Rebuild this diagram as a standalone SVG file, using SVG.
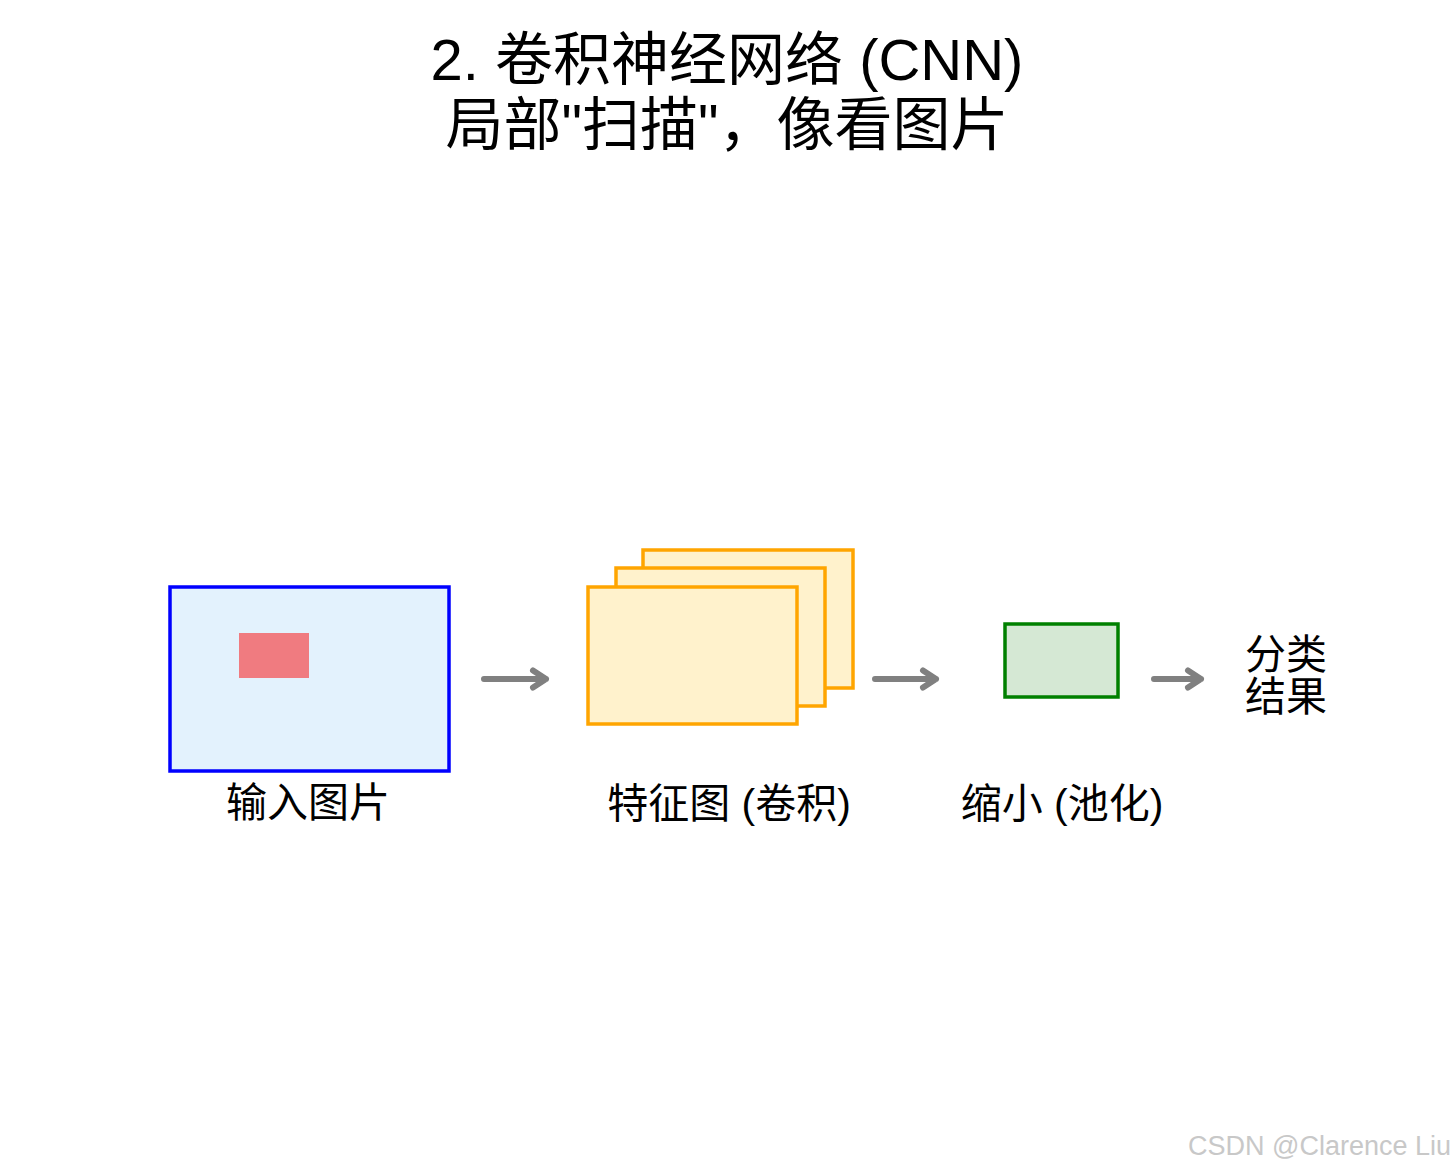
<svg xmlns="http://www.w3.org/2000/svg" width="1455" height="1171" viewBox="0 0 1455 1171">
<style>
text{font-family:"Liberation Sans","Noto Sans CJK SC",sans-serif;fill:#000}
.title{font-size:58px;text-anchor:middle}
.lbl{font-size:41px;text-anchor:middle}
.fm{fill:#fff2cc;stroke:#ffa500;stroke-width:3.5}
.arr{fill:none;stroke:#808080;stroke-width:6;stroke-linecap:round;stroke-linejoin:round}
</style>
<rect width="1455" height="1171" fill="#fff"/>
<g id="title">
<text class="title" x="727" y="80">2. 卷积神经网络 (CNN)</text>
<text class="title" x="727" y="145">局部"扫描"，像看图片</text>
</g>
<g id="input">
<rect x="170" y="587" width="279" height="184" fill="#e3f2fd" stroke="#0000ff" stroke-width="3.5"/>
<rect x="239" y="633" width="70" height="45" fill="#f07b80"/>
<text class="lbl" x="308" y="817">输入图片</text>
</g>
<g id="featuremaps">
<rect class="fm" x="643" y="550" width="210" height="138"/>
<rect class="fm" x="616" y="568" width="209" height="138"/>
<rect class="fm" x="588" y="587" width="209" height="137"/>
<text class="lbl" x="729" y="818">特征图 (卷积)</text>
</g>
<g id="pooling">
<rect x="1005" y="624" width="113" height="73" fill="#d5e8d4" stroke="#008000" stroke-width="3.5"/>
<text class="lbl" x="1062" y="818">缩小 (池化)</text>
</g>
<g id="result">
<text class="lbl" x="1286" y="669">分类</text>
<text class="lbl" x="1286" y="711">结果</text>
</g>
<g id="connectors">
<path class="arr" d="M484 679H546M533 670.5L546 679L533 687.5"/>
<path class="arr" d="M875 679H936M923 670.5L936 679L923 687.5"/>
<path class="arr" d="M1154 679H1201M1188 670.5L1201 679L1188 687.5"/>
</g>
<text x="1188" y="1155" font-size="27" style="fill:#c8c8c8">CSDN @Clarence Liu</text>
</svg>
